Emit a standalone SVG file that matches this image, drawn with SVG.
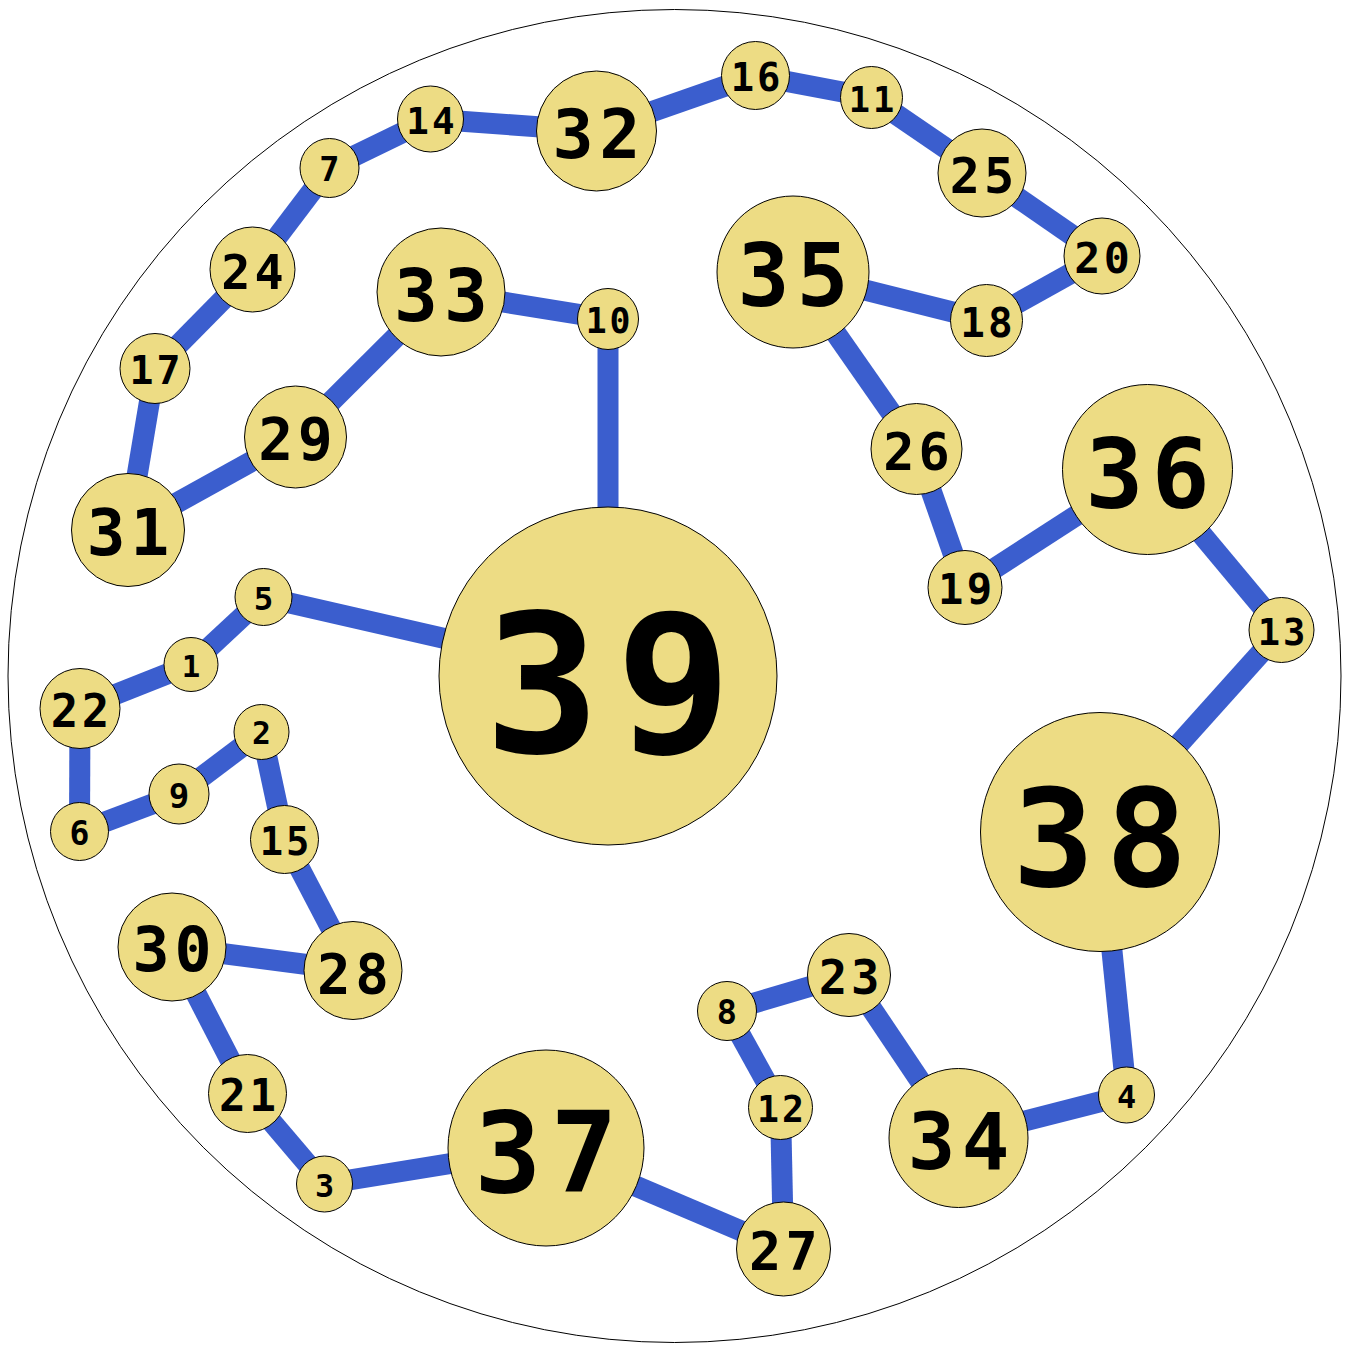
<svg xmlns="http://www.w3.org/2000/svg" width="1349" height="1345" viewBox="0 0 1349 1345">
<style>
.e{stroke:#3b5ece;stroke-width:21;fill:none}
.n circle{fill:#eddc84;stroke:#000;stroke-width:1}
.n text{font-family:"DejaVu Sans Mono","Liberation Mono",monospace;font-weight:bold;text-anchor:middle;fill:#000;letter-spacing:0.08em}
</style>
<rect width="1349" height="1345" fill="#fff"/>
<circle cx="674.5" cy="676" r="666.5" fill="none" stroke="#000" stroke-width="1"/>
<g id="edges">
<line class="e" x1="608" y1="676" x2="608" y2="319"/>
<line class="e" x1="608" y1="319" x2="441" y2="292"/>
<line class="e" x1="441" y1="292" x2="295.5" y2="437"/>
<line class="e" x1="295.5" y1="437" x2="128" y2="530"/>
<line class="e" x1="128" y1="530" x2="155" y2="368.5"/>
<line class="e" x1="155" y1="368.5" x2="252.5" y2="269.5"/>
<line class="e" x1="252.5" y1="269.5" x2="329.5" y2="168"/>
<line class="e" x1="329.5" y1="168" x2="430.5" y2="119"/>
<line class="e" x1="430.5" y1="119" x2="596.5" y2="131"/>
<line class="e" x1="596.5" y1="131" x2="755.5" y2="75.5"/>
<line class="e" x1="755.5" y1="75.5" x2="871.5" y2="97.5"/>
<line class="e" x1="871.5" y1="97.5" x2="982" y2="173"/>
<line class="e" x1="982" y1="173" x2="1102" y2="256"/>
<line class="e" x1="1102" y1="256" x2="986.5" y2="320.5"/>
<line class="e" x1="986.5" y1="320.5" x2="793" y2="272"/>
<line class="e" x1="793" y1="272" x2="916.5" y2="449"/>
<line class="e" x1="916.5" y1="449" x2="965" y2="587.5"/>
<line class="e" x1="965" y1="587.5" x2="1147.5" y2="469.5"/>
<line class="e" x1="1147.5" y1="469.5" x2="1281.5" y2="630"/>
<line class="e" x1="1281.5" y1="630" x2="1100" y2="832"/>
<line class="e" x1="1100" y1="832" x2="1126.5" y2="1095"/>
<line class="e" x1="1126.5" y1="1095" x2="958.5" y2="1138"/>
<line class="e" x1="958.5" y1="1138" x2="849" y2="975"/>
<line class="e" x1="849" y1="975" x2="727" y2="1011"/>
<line class="e" x1="727" y1="1011" x2="780.5" y2="1107.5"/>
<line class="e" x1="780.5" y1="1107.5" x2="783.5" y2="1249"/>
<line class="e" x1="783.5" y1="1249" x2="546" y2="1148"/>
<line class="e" x1="546" y1="1148" x2="324.5" y2="1184"/>
<line class="e" x1="324.5" y1="1184" x2="247.5" y2="1093.5"/>
<line class="e" x1="247.5" y1="1093.5" x2="172" y2="947"/>
<line class="e" x1="172" y1="947" x2="353" y2="970.5"/>
<line class="e" x1="353" y1="970.5" x2="284.5" y2="839.5"/>
<line class="e" x1="284.5" y1="839.5" x2="261.5" y2="732"/>
<line class="e" x1="261.5" y1="732" x2="179" y2="794"/>
<line class="e" x1="179" y1="794" x2="79.5" y2="831.5"/>
<line class="e" x1="79.5" y1="831.5" x2="80" y2="708.5"/>
<line class="e" x1="80" y1="708.5" x2="191" y2="664.5"/>
<line class="e" x1="191" y1="664.5" x2="263.5" y2="597"/>
<line class="e" x1="263.5" y1="597" x2="608" y2="676"/>
</g>
<g id="n1" class="n"><circle cx="191" cy="664.5" r="27"/><text x="192.2" y="676.7" font-size="30.8">1</text></g>
<g id="n2" class="n"><circle cx="261.5" cy="732" r="27.5"/><text x="262.8" y="744.4" font-size="31.4">2</text></g>
<g id="n3" class="n"><circle cx="324.5" cy="1184" r="28"/><text x="325.8" y="1196.6" font-size="31.9">3</text></g>
<g id="n4" class="n"><circle cx="1126.5" cy="1095" r="28"/><text x="1127.8" y="1107.6" font-size="31.9">4</text></g>
<g id="n5" class="n"><circle cx="263.5" cy="597" r="28.5"/><text x="264.8" y="609.8" font-size="32.5">5</text></g>
<g id="n6" class="n"><circle cx="79.5" cy="831.5" r="29"/><text x="80.8" y="844.6" font-size="33.1">6</text></g>
<g id="n7" class="n"><circle cx="329.5" cy="168" r="29.5"/><text x="330.8" y="181.3" font-size="33.6">7</text></g>
<g id="n8" class="n"><circle cx="727" cy="1011" r="29.5"/><text x="728.3" y="1024.3" font-size="33.6">8</text></g>
<g id="n9" class="n"><circle cx="179" cy="794" r="30"/><text x="180.4" y="807.5" font-size="34.2">9</text></g>
<g id="n10" class="n"><circle cx="608" cy="319" r="30.5"/><text x="609.4" y="332.7" font-size="34.8">10</text></g>
<g id="n11" class="n"><circle cx="871.5" cy="97.5" r="31"/><text x="872.9" y="111.5" font-size="35.3">11</text></g>
<g id="n12" class="n"><circle cx="780.5" cy="1107.5" r="32"/><text x="782" y="1121.9" font-size="36.5">12</text></g>
<g id="n13" class="n"><circle cx="1281.5" cy="630" r="32.5"/><text x="1283" y="644.6" font-size="37.1">13</text></g>
<g id="n14" class="n"><circle cx="430.5" cy="119" r="33"/><text x="432" y="133.9" font-size="37.6">14</text></g>
<g id="n15" class="n"><circle cx="284.5" cy="839.5" r="34"/><text x="286.1" y="854.8" font-size="38.8">15</text></g>
<g id="n16" class="n"><circle cx="755.5" cy="75.5" r="34"/><text x="757.1" y="90.8" font-size="38.8">16</text></g>
<g id="n17" class="n"><circle cx="155" cy="368.5" r="35"/><text x="156.6" y="384.3" font-size="39.9">17</text></g>
<g id="n18" class="n"><circle cx="986.5" cy="320.5" r="36"/><text x="988.1" y="336.7" font-size="41">18</text></g>
<g id="n19" class="n"><circle cx="965" cy="587.5" r="37"/><text x="966.7" y="604.2" font-size="42.2">19</text></g>
<g id="n20" class="n"><circle cx="1102" cy="256" r="38"/><text x="1103.7" y="273.1" font-size="43.3">20</text></g>
<g id="n21" class="n"><circle cx="247.5" cy="1093.5" r="39"/><text x="249.3" y="1111.1" font-size="44.5">21</text></g>
<g id="n22" class="n"><circle cx="80" cy="708.5" r="40"/><text x="81.8" y="726.5" font-size="45.6">22</text></g>
<g id="n23" class="n"><circle cx="849" cy="975" r="41.5"/><text x="850.9" y="993.7" font-size="47.3">23</text></g>
<g id="n24" class="n"><circle cx="252.5" cy="269.5" r="42.5"/><text x="254.4" y="288.6" font-size="48.5">24</text></g>
<g id="n25" class="n"><circle cx="982" cy="173" r="44"/><text x="984" y="192.8" font-size="50.2">25</text></g>
<g id="n26" class="n"><circle cx="916.5" cy="449" r="45.5"/><text x="918.6" y="469.5" font-size="51.9">26</text></g>
<g id="n27" class="n"><circle cx="783.5" cy="1249" r="47"/><text x="785.6" y="1270.2" font-size="53.6">27</text></g>
<g id="n28" class="n"><circle cx="353" cy="970.5" r="49"/><text x="355.2" y="992.6" font-size="55.9">28</text></g>
<g id="n29" class="n"><circle cx="295.5" cy="437" r="51"/><text x="297.8" y="460" font-size="58.1">29</text></g>
<g id="n30" class="n"><circle cx="172" cy="947" r="54"/><text x="174.5" y="971.3" font-size="61.6">30</text></g>
<g id="n31" class="n"><circle cx="128" cy="530" r="56.5"/><text x="130.6" y="555.4" font-size="64.4">31</text></g>
<g id="n32" class="n"><circle cx="596.5" cy="131" r="60"/><text x="599.2" y="158" font-size="68.4">32</text></g>
<g id="n33" class="n"><circle cx="441" cy="292" r="64"/><text x="443.9" y="320.8" font-size="73">33</text></g>
<g id="n34" class="n"><circle cx="958.5" cy="1138" r="69.5"/><text x="961.7" y="1169.3" font-size="79.2">34</text></g>
<g id="n35" class="n"><circle cx="793" cy="272" r="76"/><text x="796.5" y="306.2" font-size="86.6">35</text></g>
<g id="n36" class="n"><circle cx="1147.5" cy="469.5" r="85"/><text x="1151.4" y="507.8" font-size="96.9">36</text></g>
<g id="n37" class="n"><circle cx="546" cy="1148" r="98"/><text x="550.5" y="1192.1" font-size="111.7">37</text></g>
<g id="n38" class="n"><circle cx="1100" cy="832" r="119.5"/><text x="1105.4" y="885.8" font-size="136.2">38</text></g>
<g id="n39" class="n"><circle cx="608" cy="676" r="169"/><text x="615.7" y="752.1" font-size="192.7">39</text></g>
</svg>
